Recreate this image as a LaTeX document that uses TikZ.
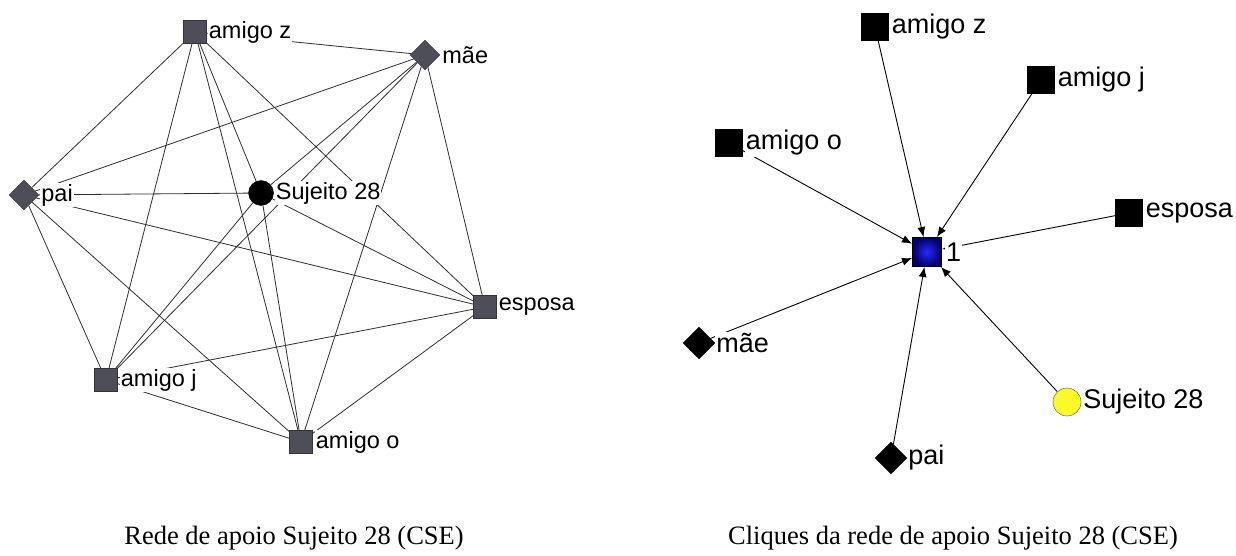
\documentclass[tikz,border=0pt]{standalone}
\usepackage{fontspec}
\setmainfont{Liberation Serif}
\setsansfont{Liberation Sans}
\usetikzlibrary{positioning,shapes.geometric,arrows.meta,backgrounds}
\definecolor{nodegray}{RGB}{78,78,88}
\definecolor{edgegray}{RGB}{45,45,45}
\definecolor{cliquein}{RGB}{40,40,255}
\definecolor{cliqueout}{RGB}{0,0,105}
\definecolor{subjyellow}{RGB}{250,250,40}

\begin{document}
\begin{tikzpicture}[x=1pt,y=-1pt,
    sq node/.style={rectangle,draw=black!80,fill=nodegray,minimum size=23pt,inner sep=0pt},
    dia node/.style={diamond,draw=black!80,fill=nodegray,minimum size=30pt,inner sep=0pt},
    dot node/.style={circle,draw=black,fill=black,minimum size=25pt,inner sep=0pt},
    blk sq/.style={rectangle,draw=black,fill=black,minimum size=27pt,inner sep=0pt},
    blk dia/.style={diamond,draw=black,fill=black,minimum size=32pt,inner sep=0pt},
    lab/.style={fill=white,inner sep=1pt,font=\sffamily\fontsize{23.5}{25}\selectfont},
    big lab/.style={fill=white,inner sep=1pt,font=\sffamily\fontsize{27}{29}\selectfont},
    caption/.style={font=\rmfamily\fontsize{26.5}{30}\selectfont}]
    \useasboundingbox (0,0) rectangle (1236,556);

    % left: support network
    \node[sq node] at (195, 32) (z) {};
    \node[dia node] at (425, 55) (m) {};
    \node[dia node] at (24, 195) (p) {};
    \node[dot node] at (261, 193) (s) {};
    \node[sq node] at (485, 307) (e) {};
    \node[sq node] at (106, 380) (j) {};
    \node[sq node] at (301, 442) (o) {};

    \node[lab, right=1pt of z] (zl) {amigo z};
    \node[lab, right=1pt of m] (ml) {mãe};
    \node[lab, right=1pt of p] (pl) {pai};
    \node[lab, right=1pt of s] (sl) {Sujeito 28};
    \node[lab, right=1pt of e] (el) {esposa};
    \node[lab, right=2pt of j] (jl) {amigo j};
    \node[lab, right=2pt of o] (ol) {amigo o};

    \begin{scope}[on background layer]
        \path[every edge/.style={draw=edgegray,line width=0.8pt}]
            (z) edge (m)
            (z) edge (p)
            (z) edge (s)
            (z) edge (e)
            (z) edge (j)
            (z) edge (o)
            (m) edge (p)
            (m) edge (s)
            (m) edge (e)
            (m) edge (j)
            (m) edge (o)
            (p) edge (s)
            (p) edge (e)
            (p) edge (j)
            (p) edge (o)
            (s) edge (e)
            (s) edge (j)
            (s) edge (o)
            (e) edge (j)
            (e) edge (o)
            (j) edge (o)
            ;
    \end{scope}

    % right: cliques
    \node[rectangle,draw=black,line width=1pt,minimum size=29pt,inner sep=0pt,
        inner color=cliquein,outer color=cliqueout] at (927, 252) (c1) {};
    \node[blk sq] at (875, 27) (cz) {};
    \node[blk sq] at (1041, 80) (cj) {};
    \node[blk sq] at (729, 143) (co) {};
    \node[blk sq] at (1129, 213) (ce) {};
    \node[blk dia] at (699, 343) (cm) {};
    \node[blk dia] at (891, 458) (cp) {};
    \node[circle,draw=black!70,fill=subjyellow,minimum size=28pt,inner sep=0pt] at (1067, 402) (cs) {};

    \node[big lab, right=3pt of c1] (c1l) {1};
    \node[big lab, right=2pt of cz] (czl) {amigo z};
    \node[big lab, right=2pt of cj] (cjl) {amigo j};
    \node[big lab, right=2pt of co] (col) {amigo o};
    \node[big lab, right=2pt of ce] (cel) {esposa};
    \node[big lab, right=0pt of cm] (cml) {mãe};
    \node[big lab, right=0pt of cp] (cpl) {pai};
    \node[big lab, right=1pt of cs] (csl) {Sujeito 28};

    \begin{scope}[on background layer]
        \path[every edge/.style={draw=black,line width=0.9pt,-{Latex[length=10pt,width=8pt]}}]
            (cz) edge (c1)
            (cj) edge (c1)
            (co) edge (c1)
            (ce) edge (c1)
            (cm) edge (c1)
            (cp) edge (c1)
            (cs) edge (c1)
            ;
    \end{scope}

    \node[caption] at (294, 538) (lcap) {Rede de apoio Sujeito 28 (CSE)};
    \node[caption] at (953, 538) (rcap) {Cliques da rede de apoio Sujeito 28 (CSE)};
\end{tikzpicture}
\end{document}
